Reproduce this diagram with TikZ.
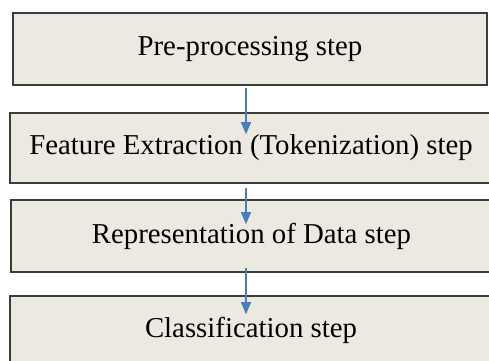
\documentclass[tikz,border=0pt]{standalone}
\usepackage{fontspec}
\setmainfont{Liberation Serif}
\usepackage{xcolor}
\usetikzlibrary{arrows.meta}

\definecolor{boxfill}{RGB}{236,234,224}
\definecolor{boxline}{RGB}{60,60,60}
\definecolor{flowblue}{RGB}{74,126,187}

\tikzset{
    stepbox/.style={rectangle, draw=boxline, fill=boxfill, line width=1.6pt,
        inner sep=0pt, font=\rmfamily\fontsize{28.8}{34}\selectfont},
    flow/.style={-{Triangle[length=12pt,width=10pt]}, draw=flowblue, line width=1.3pt}
}

\begin{document}
\begin{tikzpicture}[x=1pt, y=-1pt]
    \useasboundingbox (0,0) rectangle (489,360);
    \clip (0,0) rectangle (489,360);
    % Processing stages
    \node[stepbox, minimum width=474pt, minimum height=72pt] (pre) at (250,49) {Pre-processing step};
    \node[stepbox, minimum width=482pt, minimum height=70pt] (feat) at (251,148) {Feature Extraction (Tokenization) step};
    \node[stepbox, minimum width=481pt, minimum height=72pt] (repr) at (251.5,236) {Representation of Data step};
    \node[stepbox, minimum width=482pt, minimum height=68pt] (cls) at (251,330) {Classification step};

    % Arrows between stages
    \draw[flow] ([xshift=-4pt, yshift=-2pt]pre.south) -- ([xshift=-5pt, yshift=-22pt]feat.north);
    \draw[flow] ([xshift=-5pt, yshift=-4pt]feat.south) -- ([xshift=-5.5pt, yshift=-25pt]repr.north);
    \draw[flow] ([xshift=-5.5pt, yshift=5pt]repr.south) -- ([xshift=-5pt, yshift=-19pt]cls.north);
\end{tikzpicture}
\end{document}
